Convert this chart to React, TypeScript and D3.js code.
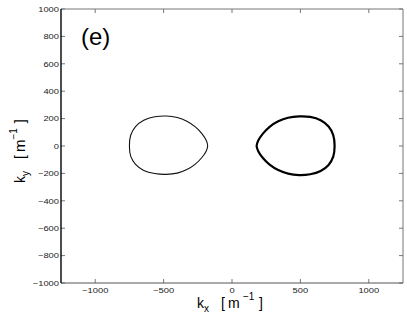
import React from 'react';
import * as d3 from 'd3';

const W = 407;
const H = 319;

const xTicks = [-1000, -500, 0, 500, 1000];
const yTicks = [-1000, -800, -600, -400, -200, 0, 200, 400, 600, 800, 1000];

// left contour (thin), [kx, ky]
const leftLoop: [number, number][] = [
  [-750, 0], [-740, 80], [-705, 142], [-645, 188], [-565, 213], [-480, 219],
  [-400, 208], [-330, 181], [-268, 140], [-220, 90], [-188, 40], [-178, 2],
  [-188, -36], [-220, -84], [-268, -132], [-330, -172], [-400, -198], [-480, -207],
  [-565, -201], [-645, -178], [-705, -134], [-740, -76],
];

// right contour (thick)
const rightLoop: [number, number][] = [
  [750, 0], [740, 80], [706, 142], [648, 188], [572, 212], [490, 216],
  [410, 206], [338, 180], [275, 140], [226, 90], [192, 40], [180, 0],
  [192, -38], [226, -88], [275, -136], [338, -176], [410, -202], [490, -212],
  [572, -206], [648, -182], [706, -138], [740, -78],
];

const FONT = 'Liberation Sans, Arial, Helvetica, sans-serif';

export default function App() {
  const m = { left: 61, right: 403, top: 9, bottom: 283 };
  const x = d3.scaleLinear().domain([-1250, 1250]).range([m.left, m.right]);
  const y = d3.scaleLinear().domain([-1000, 1000]).range([m.bottom, m.top]);

  const line = d3
    .line<[number, number]>()
    .x(d => x(d[0]))
    .y(d => y(d[1]))
    .curve(d3.curveCatmullRomClosed);

  const fmt = (v: number) => (v < 0 ? '\u2212' + Math.abs(v) : String(v));
  const tk = 4;

  return (
    <svg
      width={W}
      height={H}
      style={{ position: 'absolute', left: 0, top: 0, background: '#fff' }}
      fontFamily={FONT}
    >
      {/* ticks, inside, on all four sides */}
      {xTicks.map(v => (
        <g key={'xt' + v} stroke="#777" strokeWidth={1}>
          <line x1={x(v)} x2={x(v)} y1={m.bottom} y2={m.bottom - tk} />
          <line x1={x(v)} x2={x(v)} y1={m.top} y2={m.top + tk} />
        </g>
      ))}
      {yTicks.map(v => (
        <g key={'yt' + v} stroke="#777" strokeWidth={1}>
          <line x1={m.left} x2={m.left + tk} y1={y(v)} y2={y(v)} />
          <line x1={m.right} x2={m.right - tk} y1={y(v)} y2={y(v)} />
        </g>
      ))}

      {/* box */}
      <line x1={m.left} x2={m.right} y1={m.top} y2={m.top} stroke="#777" />
      <line x1={m.right} x2={m.right} y1={m.top} y2={m.bottom} stroke="#777" />
      <line x1={m.left} x2={m.right} y1={m.bottom} y2={m.bottom} stroke="#555" />
      <line x1={m.left} x2={m.left} y1={m.top} y2={m.bottom} stroke="#000" strokeWidth={1.4} />

      {/* tick labels */}
      {xTicks.map(v => (
        <text
          key={'xl' + v}
          transform={`translate(${x(v)},${m.bottom + 10}) scale(1.25,1)`}
          textAnchor="middle"
          fontSize={7.5}
          fill="#222"
        >
          {fmt(v)}
        </text>
      ))}
      {yTicks.map(v => (
        <text
          key={'yl' + v}
          transform={`translate(${m.left - 2},${y(v) + 2.7}) scale(1.25,1)`}
          textAnchor="end"
          fontSize={7.5}
          fill="#222"
        >
          {fmt(v)}
        </text>
      ))}

      {/* contours */}
      <path d={line(leftLoop) || ''} fill="none" stroke="#111" strokeWidth={1.1} />
      <path d={line(rightLoop) || ''} fill="none" stroke="#000" strokeWidth={2.2} />

      {/* panel label */}
      <text x={81} y={45} fontSize={24} fill="#000">(e)</text>

      {/* x axis label, split so the superscript sits clear of the 0 tick label */}
      <text x={197} y={308} fontSize={14} fill="#000">
        k
        <tspan fontSize={10} dy={4}>x</tspan>
        <tspan dy={-4} dx={12}>[</tspan>
        <tspan dx={3}>m</tspan>
      </text>
      <text x={243} y={300} fontSize={10} fill="#000">{'\u22121'}</text>
      <text x={259} y={308} fontSize={14} fill="#000">]</text>

      {/* y axis label */}
      <text
        transform="translate(25,183) rotate(-90)"
        fontSize={14}
        fill="#000"
      >
        k
        <tspan fontSize={10} dy={4}>y</tspan>
        <tspan dy={-4} dx={12}>[</tspan>
        <tspan dx={3} fontSize={15}>m</tspan>
        <tspan fontSize={10} dy={-8}>{'\u22121'}</tspan>
        <tspan dy={8} dx={5}>]</tspan>
      </text>
    </svg>
  );
}
